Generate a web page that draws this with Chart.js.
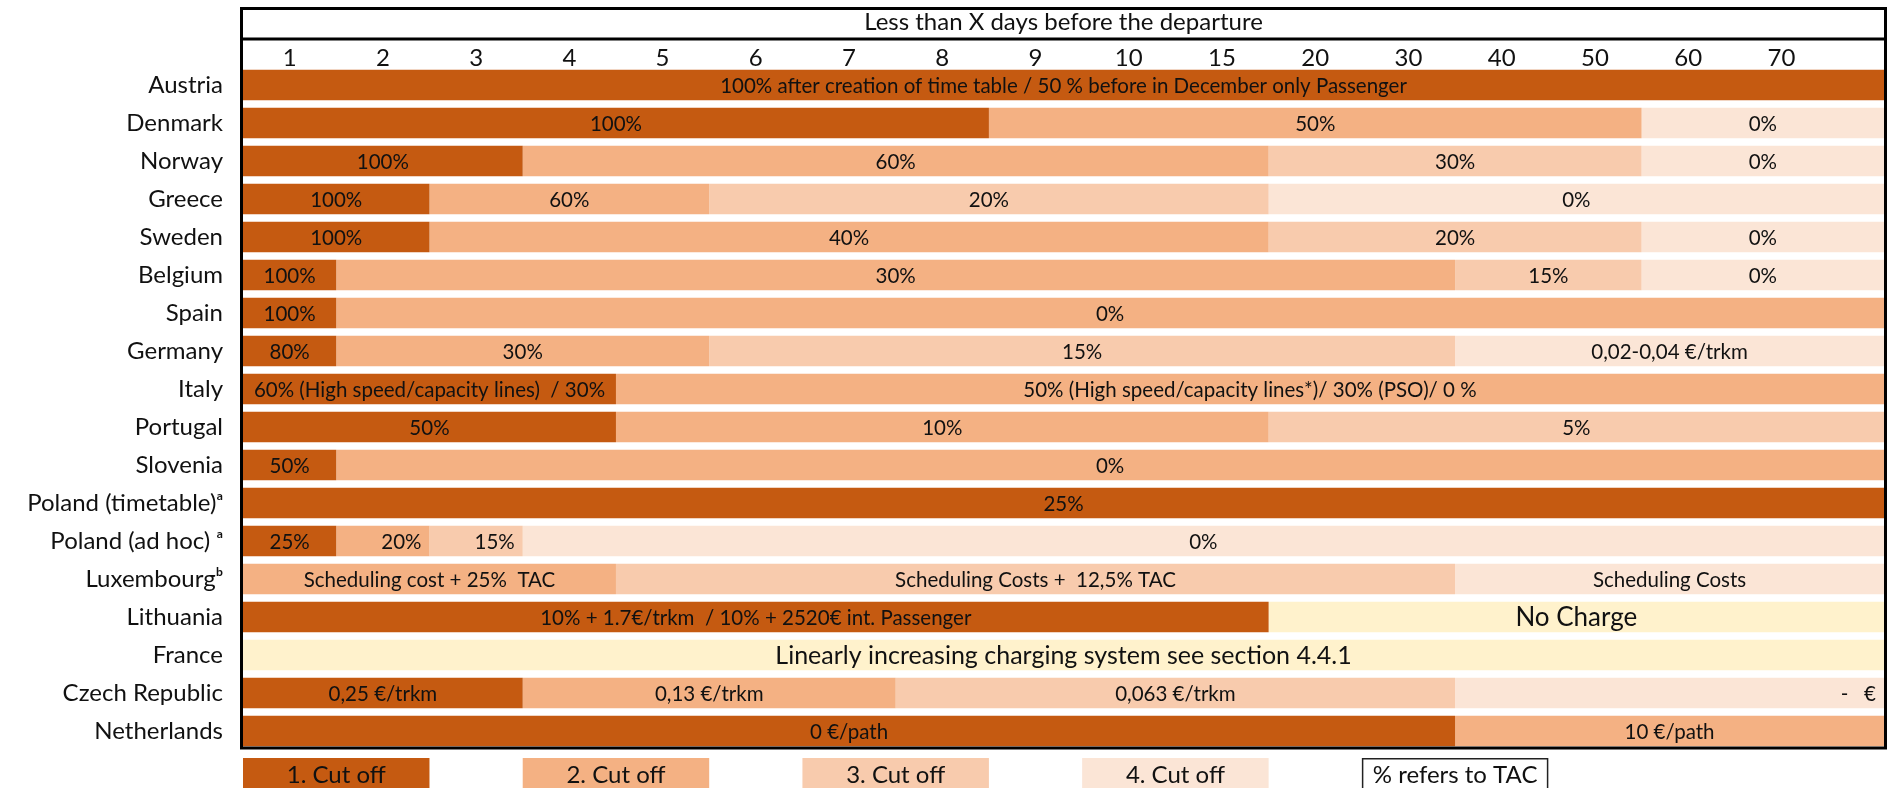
<!DOCTYPE html>
<html><head><meta charset="utf-8">
<script src="https://cdn.jsdelivr.net/npm/chart.js@4/dist/chart.umd.min.js"></script>
<style>html,body{margin:0;padding:0;background:#fff;}</style>
</head><body>
<canvas id="c" width="1889" height="788"></canvas>
<script>
// ---------- data ----------
const countries = ["Austria","Denmark","Norway","Greece","Sweden","Belgium","Spain","Germany","Italy","Portugal","Slovenia","Poland (timetable)\u1D43","Poland (ad hoc) \u1D43","Luxembourg\u1D47","Lithuania","France","Czech Republic","Netherlands"];
const columnLabels = ["1","2","3","4","5","6","7","8","9","10","15","20","30","40","50","60","70"];
const headerTitle = "Less than X days before the departure";
const E = 17.6; // right end of the table (in columns)

// segments in column units [from, to]
const cut1 = [[0,E],[0,8],[0,3],[0,2],[0,2],[0,1],[0,1],[0,1],[0,4],[0,4],[0,1],[0,E],[0,1],null,[0,11],null,[0,3],[0,13]];
const cut1Text = ["100% after creation of time table / 50 % before in December only Passenger","100%","100%","100%","100%","100%","100%","80%","60% (High speed/capacity lines)  / 30%","50%","50%","25%","25%","","10% + 1.7€/trkm  / 10% + 2520€ int. Passenger","","0,25 €/trkm","0 €/path"];
const cut2 = [null,[8,15],[3,11],[2,5],[2,11],[1,13],[1,E],[1,5],[4,E],[4,11],[1,E],null,[1,2],[0,4],null,null,[3,7],[13,E]];
const cut2Text = ["","50%","60%","60%","40%","30%","0%","30%","50% (High speed/capacity lines*)/ 30% (PSO)/ 0 %","10%","0%","","20%","Scheduling cost + 25%  TAC","","","0,13 €/trkm","10 €/path"];
const cut3 = [null,null,[11,15],[5,11],[11,15],[13,15],null,[5,13],null,[11,E],null,null,[2,3],[4,13],null,null,[7,13],null];
const cut3Text = ["","","30%","20%","20%","15%","","15%","","5%","","","15%","Scheduling Costs +  12,5% TAC","","","0,063 €/trkm",""];
const cut4 = [null,[15,E],[15,E],[11,E],[15,E],[15,E],null,[13,E],null,null,null,null,[3,E],[13,E],null,null,[13,E],null];
const cut4Text = ["","0%","0%","0%","0%","0%","","0,02-0,04 €/trkm","","","","","0%","Scheduling Costs","","","-   €",""];
const noCharge = [null,null,null,null,null,null,null,null,null,null,null,null,null,null,[11,E],[0,E],null,null];
const noChargeText = ["","","","","","","","","","","","","","","No Charge","Linearly increasing charging system see section 4.4.1","",""];
const rightAligned = [[1,12],[2,12],[3,16]]; // [dataset, row]
const legendLabels = ["1. Cut off","2. Cut off","3. Cut off","4. Cut off"];
const noteLabel = "% refers to TAC";

const colors = ["#C55A11","#F4B183","#F8CBAD","#FBE5D6","#FFF2CC"];
const FONT = "Lato, 'Open Sans', sans-serif";
const TXT = "#111";

const sets = [[cut1,cut1Text],[cut2,cut2Text],[cut3,cut3Text],[cut4,cut4Text],[noCharge,noChargeText]];
const names = ["1. Cut off","2. Cut off","3. Cut off","4. Cut off","No Charge"];
const datasets = sets.map((s,k)=>({
  label: names[k], data: s[0], texts: s[1],
  backgroundColor: colors[k], borderWidth: 0, grouped: false,
  categoryPercentage: 1, barPercentage: 0.8
}));

const labelPlugin = {
  id:'barLabels',
  afterDatasetsDraw(chart){
    const ctx = chart.ctx;
    ctx.save();
    ctx.fillStyle = TXT;
    ctx.textBaseline = "middle";
    chart.data.datasets.forEach((ds,di)=>{
      const meta = chart.getDatasetMeta(di);
      meta.data.forEach((el,i)=>{
        const t = ds.texts[i];
        if(!t || ds.data[i]==null) return;
        let size = 20.5;
        if(di===4) size = (i===14) ? 26 : 25;
        ctx.font = size + "px " + FONT;
        const l = Math.min(el.x, el.base), r = Math.max(el.x, el.base);
        const ra = rightAligned.some(a=>a[0]===di && a[1]===i);
        if(ra){ ctx.textAlign="right"; ctx.fillText(t, r-8, el.y+1); }
        else { ctx.textAlign="center"; ctx.fillText(t, (l+r)/2, el.y+1); }
      });
    });
    ctx.restore();
  },
  afterDraw(chart){
    const ctx = chart.ctx, ca = chart.chartArea, xs = chart.scales.x;
    ctx.save();
    // frame
    ctx.strokeStyle = "#000"; ctx.lineWidth = 3;
    ctx.strokeRect(ca.left-1.5, 8.5, ca.right-ca.left+3, ca.bottom-2-8.5);
    ctx.beginPath(); ctx.moveTo(ca.left-1.5, 39); ctx.lineTo(ca.right+1.5, 39); ctx.stroke();
    // legend
    const legTop = 758;
    ctx.font = "24px " + FONT; ctx.textAlign="center"; ctx.textBaseline="middle";
    legendLabels.forEach((lab,k)=>{
      const x0 = xs.getPixelForValue(k*3), x1 = xs.getPixelForValue(k*3+2);
      ctx.fillStyle = colors[k]; ctx.fillRect(x0, legTop, x1-x0, 40);
      ctx.fillStyle = TXT; ctx.fillText(lab, (x0+x1)/2, legTop+17);
    });
    const n0 = xs.getPixelForValue(12), n1 = xs.getPixelForValue(14);
    ctx.strokeStyle="#222"; ctx.lineWidth=1.5;
    ctx.strokeRect(n0+0.75, legTop+0.75, n1-n0-1.5, 40);
    ctx.fillStyle=TXT; ctx.fillText(noteLabel, (n0+n1)/2, legTop+17);
    ctx.restore();
  }
};

new Chart(document.getElementById('c'), {
  type:'bar',
  data:{ labels: countries, datasets },
  options:{
    indexAxis:'y', responsive:false, animation:false, devicePixelRatio:1,
    layout:{ padding:{ top:0, right:5, bottom:38, left:0 } },
    plugins:{ legend:{display:false}, tooltip:{enabled:false} },
    scales:{
      x:{ type:'linear', position:'top', min:0, max:E,
        grid:{display:false, drawTicks:false}, border:{display:false},
        afterBuildTicks(s){ s.ticks = columnLabels.map((l,i)=>({value:i+0.5})); },
        ticks:{ autoSkip:false, maxRotation:0, padding:-7, color:TXT, font:{family:FONT,size:24},
          callback:(v,i)=>columnLabels[i] },
        title:{ display:true, text:headerTitle, color:TXT, font:{family:FONT,size:24}, padding:{top:8,bottom:6} },
        afterFit(s){ s.height = 66; }
      },
      y:{ type:'category', grid:{display:false, drawTicks:false}, border:{display:false},
        ticks:{ padding:20, color:TXT, font:{family:FONT,size:24}, autoSkip:false },
        afterFit(s){ s.width = 243; }
      }
    }
  },
  plugins:[labelPlugin]
});
</script>
</body></html>
